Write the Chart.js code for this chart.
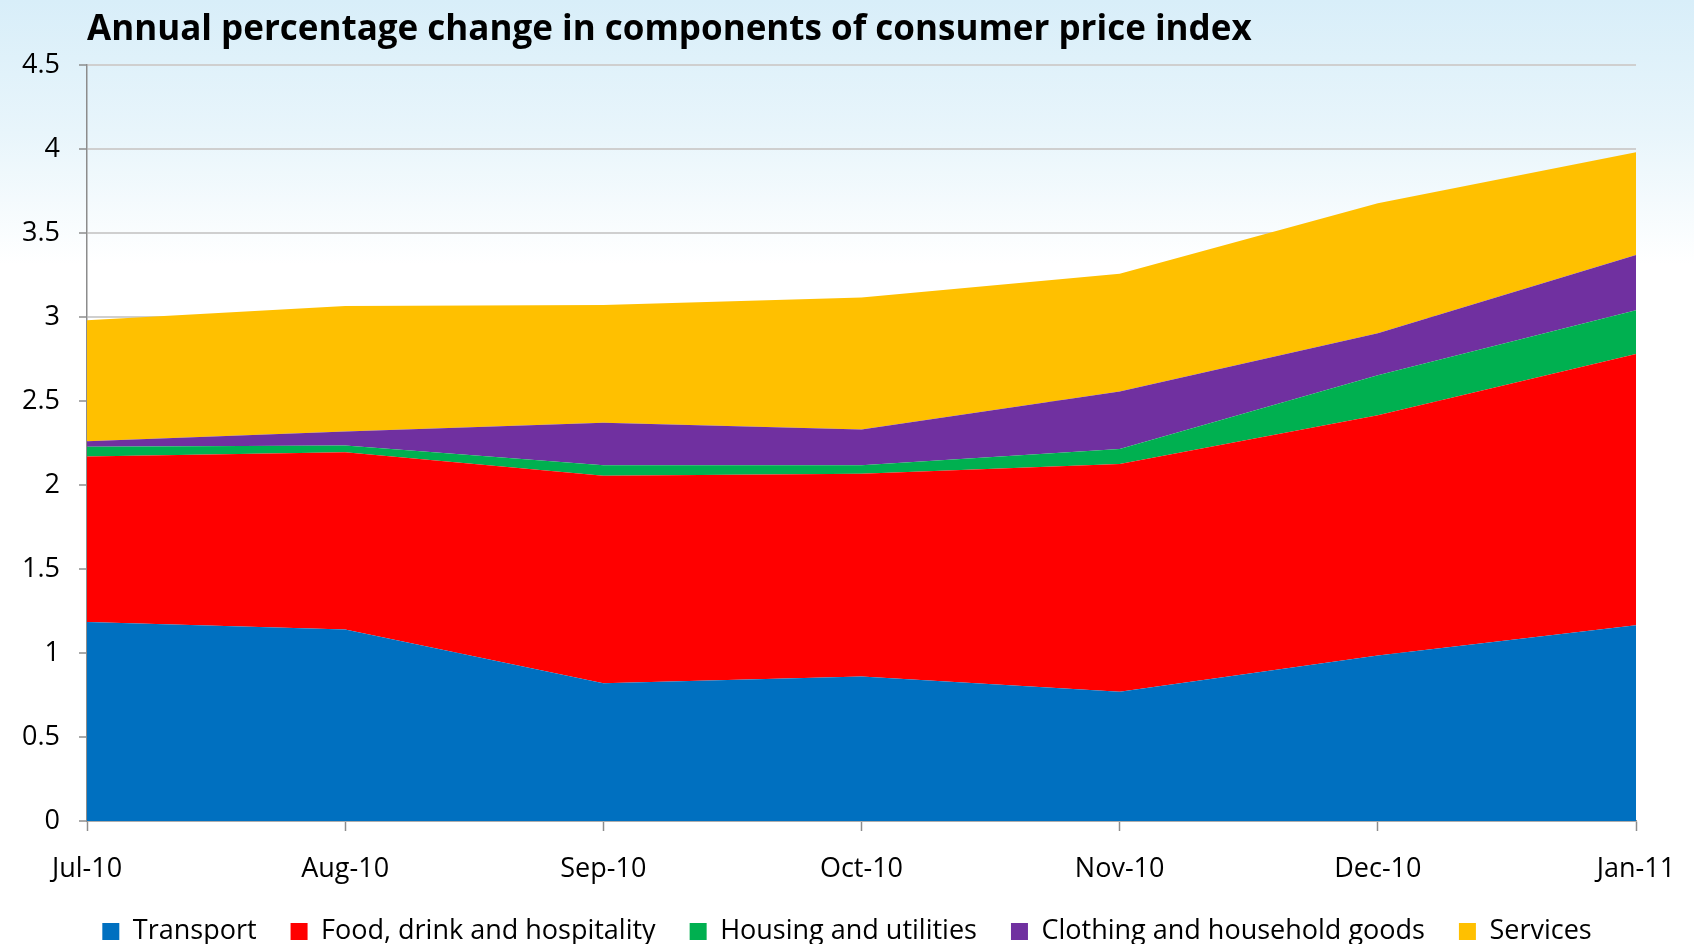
<!DOCTYPE html>
<html>
<head>
<meta charset="utf-8">
<script src="https://cdn.jsdelivr.net/npm/chart.js@4"></script>
<style>
  html, body { margin: 0; padding: 0; }
  body {
    width: 1694px; height: 944px; overflow: hidden;
    background: linear-gradient(to bottom, #d8eef9 0%, #e8f5fb 14%, #ffffff 28%, #ffffff 100%);
  }
  #wrap { position: relative; width: 1694px; height: 944px; }
</style>
</head>
<body>
<div id="wrap"><canvas id="cpiChart"></canvas></div>
<script>
// months on the x axis
const months = ['Jul-10', 'Aug-10', 'Sep-10', 'Oct-10', 'Nov-10', 'Dec-10', 'Jan-11'];

// contribution of each component (percentage points), stacked
const transport = [1.185, 1.14, 0.82, 0.86, 0.77, 0.985, 1.165];
const foodDrink = [0.985, 1.055, 1.235, 1.207, 1.355, 1.43, 1.615];
const housing = [0.058, 0.04, 0.063, 0.051, 0.09, 0.238, 0.26];
const clothing = [0.032, 0.084, 0.252, 0.213, 0.341, 0.251, 0.329];
const services = [0.721, 0.747, 0.701, 0.785, 0.702, 0.773, 0.611];

const seriesNames = ['Transport', 'Food, drink and hospitality', 'Housing and utilities',
                     'Clothing and household goods', 'Services'];
const seriesColors = ['#0070C0', '#FF0000', '#00B050', '#7030A0', '#FFC000'];
const seriesData = [transport, foodDrink, housing, clothing, services];

const FONT = "'Open Sans', 'Noto Sans', sans-serif";

const datasets = seriesData.map(function(values, i) {
    return {
        label: seriesNames[i],
        data: values,
        fill: i === 0 ? 'origin' : '-1',
        backgroundColor: seriesColors[i],
        borderColor: seriesColors[i],
        borderWidth: 0,
        pointRadius: 0,
        tension: 0
    };
});

const ctx = document.getElementById('cpiChart').getContext('2d');

new Chart(ctx, {
    type: 'line',
    data: { labels: months, datasets: datasets },
    options: {
        responsive: true,
        maintainAspectRatio: false,
        animation: false,
        layout: { padding: 0 },
        plugins: {
            tooltip: { enabled: false },
            title: {
                display: true,
                text: 'Annual percentage change in components of consumer price index',
                align: 'start',
                fullSize: false,
                color: '#000',
                font: { family: FONT, size: 35, weight: 'bold', lineHeight: 1.2 },
                padding: { top: 9, bottom: 14 }
            },
            legend: {
                position: 'bottom',
                maxHeight: 60,
                labels: {
                    color: '#000',
                    font: { family: FONT, size: 27 },
                    boxWidth: 17,
                    boxHeight: 17,
                    padding: 34
                }
            }
        },
        scales: {
            x: {
                offset: false,
                border: { display: true, color: '#8c8c8c', width: 1.5 },
                grid: { drawOnChartArea: false, drawTicks: true, tickLength: 10, tickColor: '#8c8c8c', tickWidth: 1.5 },
                ticks: {
                    color: '#000',
                    font: { family: FONT, size: 27 },
                    padding: 22,
                    maxRotation: 0,
                    autoSkip: false
                },
                afterFit: function(scale) {
                    scale.height = 63;
                    scale.paddingRight = 58;
                }
            },
            y: {
                stacked: true,
                min: 0,
                max: 4.5,
                border: { display: true, color: '#8c8c8c', width: 1.5 },
                grid: { color: '#cfcfcf', lineWidth: 2, tickLength: 8, tickColor: '#8c8c8c', tickWidth: 1.5 },
                ticks: {
                    stepSize: 0.5,
                    color: '#000',
                    font: { family: FONT, size: 27 },
                    padding: 19,
                    callback: function(value) { return String(Math.round(value * 10) / 10); }
                },
                afterFit: function(scale) { scale.width = 87; }
            }
        }
    }
});
</script>
</body>
</html>
